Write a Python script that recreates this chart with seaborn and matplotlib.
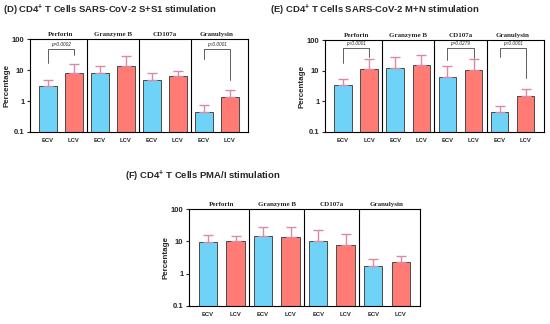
import numpy as np
import pandas as pd
import matplotlib
matplotlib.use("Agg")
import matplotlib.pyplot as plt
import seaborn as sns

# markers and groups
markers = ["Perforin", "Granzyme B", "CD107a", "Granulysin"]
groups = ["ECV", "LCV"]

# bar heights (mean %), order: marker x group
d_mean = [3.1, 7.9, 7.8, 13.5, 4.9, 6.2, 0.44, 1.32]
d_upper = [4.8, 15.5, 13.8, 29.0, 8.3, 9.2, 0.74, 2.3]
e_mean = [3.3, 11.5, 12.6, 14.8, 6.3, 10.9, 0.44, 1.53]
e_upper = [5.2, 23.7, 27.5, 33.5, 14.7, 24.3, 0.72, 2.6]
f_mean = [9.4, 10.1, 14.2, 13.5, 10.6, 7.8, 1.7, 2.26]
f_upper = [15.2, 14.9, 27.0, 28.3, 22.7, 16.3, 2.8, 3.4]

# significance brackets: (marker index, p text, top, left leg end, right leg end)
d_pvals = [(0, "p=0.0002", 47, 16.6, 30), (3, "p<0.0001", 47, 23, 4.7)]
e_pvals = [(0, "p<0.0001", 53, 17.5, 28), (2, "p=0.0279", 55, 22, 25.5),
           (3, "p<0.0001", 53, 27, 5.6)]
f_pvals = []

titles = ["(D) CD4$^{+}$ T Cells SARS-CoV-2 S+S1 stimulation",
          "(E) CD4$^{+}$ T Cells SARS-CoV-2 M+N stimulation",
          "(F) CD4$^{+}$ T Cells PMA/I stimulation"]

sns.set_style("white")
plt.rcParams['font.family'] = ['Liberation Sans', 'DejaVu Sans']
plt.rcParams['mathtext.fontset'] = 'custom'
plt.rcParams['mathtext.rm'] = 'Liberation Sans:bold'
plt.rcParams['mathtext.bf'] = 'Liberation Sans:bold'

blue = "#6ED3F6"
red = "#FF7B73"
err_col = "#DB8AA6"

W, H = 550, 324
fig = plt.figure(figsize=(5.5, 3.24), dpi=100)


def px_axes(x0, y0, x1, y1):
    return fig.add_axes([x0 / W, 1 - y1 / H, (x1 - x0) / W, (y1 - y0) / H])


def panel(ax, mean, upper, pvals):
    keys = [f"{m} {g}" for m in markers for g in groups]
    df = pd.DataFrame({"key": keys, "value": mean,
                       "group": [g for m in markers for g in groups]})
    sns.barplot(data=df, x="key", y="value", hue="group", order=keys,
                palette={"ECV": blue, "LCV": red}, dodge=False, width=0.67,
                saturation=1, edgecolor="#4a4a4a", linewidth=0.7,
                errorbar=None, legend=False, ax=ax)
    pos = np.arange(len(keys))
    lo = np.zeros(len(keys))
    hi = np.array(upper) - np.array(mean)
    ax.errorbar(pos, mean, yerr=[lo, hi], fmt="none", ecolor=err_col,
                elinewidth=1.0, capsize=3.5, capthick=1.0, zorder=1)
    ax.set_yscale("log")
    ax.set_ylim(0.1, 100)
    ax.set_xlim(-0.69, 7.7)
    ax.set_yticks([0.1, 1, 10, 100])
    ax.set_yticklabels(["0.1", "1", "10", "100"], fontsize=5.5,
                       fontweight="bold")
    ax.minorticks_off()
    ax.set_xticks(pos)
    ax.set_xticklabels(groups * 4, fontsize=4.2, fontweight="bold")
    ax.tick_params(axis="x", length=0, pad=4)
    ax.tick_params(axis="y", length=2.5, width=0.8, pad=1.5, left=True)
    ax.set_xlabel("")
    ax.set_ylabel("Percentage", fontsize=5.8, fontweight="bold", labelpad=1)
    for s in ax.spines.values():
        s.set_color("black")
        s.set_linewidth(0.8)
    for xv in [1.5, 3.5, 5.5]:
        ax.axvline(xv, color="black", lw=0.8)
    for i, m in enumerate(markers):
        ax.text(2 * i + 0.5, 1.02, m, transform=ax.get_xaxis_transform(),
                ha="center", va="bottom", fontsize=5, fontweight="bold",
                family="Liberation Serif")
    for i, txt, top, l, r in pvals:
        x0, x1 = 2 * i, 2 * i + 1
        ax.plot([x0, x0, x1, x1], [l, top, top, r], color="#444444", lw=0.6)
        ax.text(2 * i + 0.5, top * 1.4, txt, ha="center", va="center",
                fontsize=3.4, style="italic")


axD = px_axes(30, 39, 248, 132)
panel(axD, d_mean, d_upper, d_pvals)
axE = px_axes(325, 40, 544, 132)
panel(axE, e_mean, e_upper, e_pvals)
axF = px_axes(189, 209, 420, 306)
panel(axF, f_mean, f_upper, f_pvals)

tfont = dict(fontsize=6.8, fontweight="bold",
             family=["Liberation Sans Narrow", "Liberation Sans", "DejaVu Sans"])
fig.text(3 / W, 1 - 10 / H, titles[0], ha="left", va="center", **tfont)
fig.text(270 / W, 1 - 10 / H, titles[1], ha="left", va="center", **tfont)
fig.text(125 / W, 1 - 176 / H, titles[2], ha="left", va="center", **tfont)

fig.savefig("out.png", dpi=100)
